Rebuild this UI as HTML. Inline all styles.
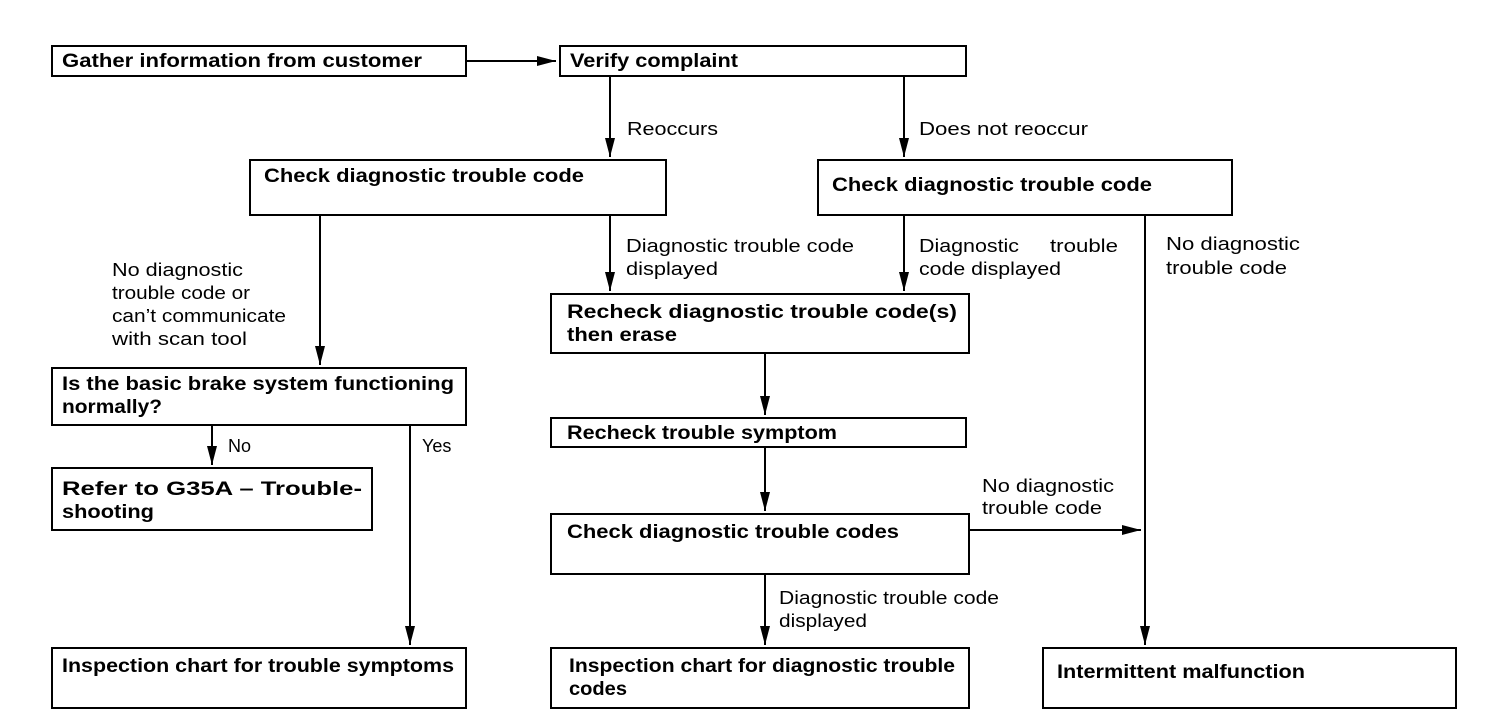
<!DOCTYPE html>
<html><head><meta charset="utf-8"><style>
html,body{margin:0;padding:0;background:#fff;}
svg{display:block;}
text{font-family:"Liberation Sans",Arial,sans-serif;fill:#000;}
.b{font-weight:bold;font-size:19px;}
.n{font-size:18px;}
rect{fill:none;stroke:#000;stroke-width:2;}
line{stroke:#000;stroke-width:2;}
</style></head><body>
<svg width="1504" height="728" viewBox="0 0 1504 728" xmlns="http://www.w3.org/2000/svg">
<defs><marker id="a" markerWidth="12" markerHeight="20" refX="6" refY="19" orient="0" markerUnits="userSpaceOnUse"><path d="M1,0 L6,19 L11,0 Z" fill="#000"/></marker>
<marker id="d" markerWidth="20" markerHeight="12" refX="19" refY="6" orient="0" markerUnits="userSpaceOnUse"><path d="M0,1 L19,6 L0,11 Z" fill="#000"/></marker></defs>

<rect x="52" y="46" width="414" height="30"/>
<text class="b" x="62" y="67" textLength="360" lengthAdjust="spacingAndGlyphs">Gather information from customer</text>
<rect x="560" y="46" width="406" height="30"/>
<text class="b" x="570" y="67" textLength="168" lengthAdjust="spacingAndGlyphs">Verify complaint</text>

<rect x="250" y="160" width="416" height="55"/>
<text class="b" x="264" y="182" textLength="320" lengthAdjust="spacingAndGlyphs">Check diagnostic trouble code</text>
<rect x="818" y="160" width="414" height="55"/>
<text class="b" x="832" y="191" textLength="320" lengthAdjust="spacingAndGlyphs">Check diagnostic trouble code</text>

<rect x="551" y="294" width="418" height="59"/>
<text class="b" x="567" y="318" textLength="390" lengthAdjust="spacingAndGlyphs">Recheck diagnostic trouble code(s)</text>
<text class="b" x="567" y="341" textLength="110" lengthAdjust="spacingAndGlyphs">then erase</text>

<rect x="52" y="368" width="414" height="57"/>
<text class="b" x="62" y="390" textLength="392" lengthAdjust="spacingAndGlyphs">Is the basic brake system functioning</text>
<text class="b" x="62" y="413" textLength="100" lengthAdjust="spacingAndGlyphs">normally?</text>

<rect x="52" y="468" width="320" height="62"/>
<text class="b" x="62" y="495" textLength="300" lengthAdjust="spacingAndGlyphs">Refer to G35A – Trouble-</text>
<text class="b" x="62" y="518" textLength="92" lengthAdjust="spacingAndGlyphs">shooting</text>

<rect x="551" y="418" width="415" height="29"/>
<text class="b" x="567" y="439" textLength="270" lengthAdjust="spacingAndGlyphs">Recheck trouble symptom</text>

<rect x="551" y="514" width="418" height="60"/>
<text class="b" x="567" y="538" textLength="332" lengthAdjust="spacingAndGlyphs">Check diagnostic trouble codes</text>

<rect x="52" y="648" width="414" height="60"/>
<text class="b" x="62" y="672" textLength="392" lengthAdjust="spacingAndGlyphs">Inspection chart for trouble symptoms</text>
<rect x="551" y="648" width="418" height="60"/>
<text class="b" x="569" y="672" textLength="386" lengthAdjust="spacingAndGlyphs">Inspection chart for diagnostic trouble</text>
<text class="b" x="569" y="695" textLength="58" lengthAdjust="spacingAndGlyphs">codes</text>
<rect x="1043" y="648" width="413" height="60"/>
<text class="b" x="1057" y="678" textLength="248" lengthAdjust="spacingAndGlyphs">Intermittent malfunction</text>

<line x1="466" y1="61" x2="556" y2="61" marker-end="url(#d)"/>
<line x1="610" y1="76" x2="610" y2="157" marker-end="url(#a)"/>
<line x1="904" y1="76" x2="904" y2="157" marker-end="url(#a)"/>
<line x1="320" y1="215" x2="320" y2="365" marker-end="url(#a)"/>
<line x1="610" y1="215" x2="610" y2="291" marker-end="url(#a)"/>
<line x1="904" y1="215" x2="904" y2="291" marker-end="url(#a)"/>
<line x1="1145" y1="215" x2="1145" y2="645" marker-end="url(#a)"/>
<line x1="765" y1="353" x2="765" y2="415" marker-end="url(#a)"/>
<line x1="765" y1="447" x2="765" y2="511" marker-end="url(#a)"/>
<line x1="765" y1="574" x2="765" y2="645" marker-end="url(#a)"/>
<line x1="212" y1="425" x2="212" y2="465" marker-end="url(#a)"/>
<line x1="410" y1="425" x2="410" y2="645" marker-end="url(#a)"/>
<line x1="969" y1="530" x2="1141" y2="530" marker-end="url(#d)"/>

<text class="n" x="627" y="135" textLength="91" lengthAdjust="spacingAndGlyphs">Reoccurs</text>
<text class="n" x="919" y="135" textLength="169" lengthAdjust="spacingAndGlyphs">Does not reoccur</text>
<text class="n" x="626" y="252" textLength="228" lengthAdjust="spacingAndGlyphs">Diagnostic trouble code</text>
<text class="n" x="626" y="275" textLength="92" lengthAdjust="spacingAndGlyphs">displayed</text>
<text class="n" x="919" y="252" textLength="100" lengthAdjust="spacingAndGlyphs">Diagnostic</text>
<text class="n" x="1050" y="252" textLength="68" lengthAdjust="spacingAndGlyphs">trouble</text>
<text class="n" x="919" y="275" textLength="142" lengthAdjust="spacingAndGlyphs">code displayed</text>
<text class="n" x="1166" y="250" textLength="134" lengthAdjust="spacingAndGlyphs">No diagnostic</text>
<text class="n" x="1166" y="274" textLength="121" lengthAdjust="spacingAndGlyphs">trouble code</text>
<text class="n" x="112" y="276" textLength="131" lengthAdjust="spacingAndGlyphs">No diagnostic</text>
<text class="n" x="112" y="299" textLength="138" lengthAdjust="spacingAndGlyphs">trouble code or</text>
<text class="n" x="112" y="322" textLength="174" lengthAdjust="spacingAndGlyphs">can’t communicate</text>
<text class="n" x="112" y="345" textLength="135" lengthAdjust="spacingAndGlyphs">with scan tool</text>
<text class="n" x="228" y="452">No</text>
<text class="n" x="422" y="452">Yes</text>
<text class="n" x="982" y="492" textLength="132" lengthAdjust="spacingAndGlyphs">No diagnostic</text>
<text class="n" x="982" y="514" textLength="120" lengthAdjust="spacingAndGlyphs">trouble code</text>
<text class="n" x="779" y="604" textLength="220" lengthAdjust="spacingAndGlyphs">Diagnostic trouble code</text>
<text class="n" x="779" y="627" textLength="88" lengthAdjust="spacingAndGlyphs">displayed</text>
</svg>
</body></html>
